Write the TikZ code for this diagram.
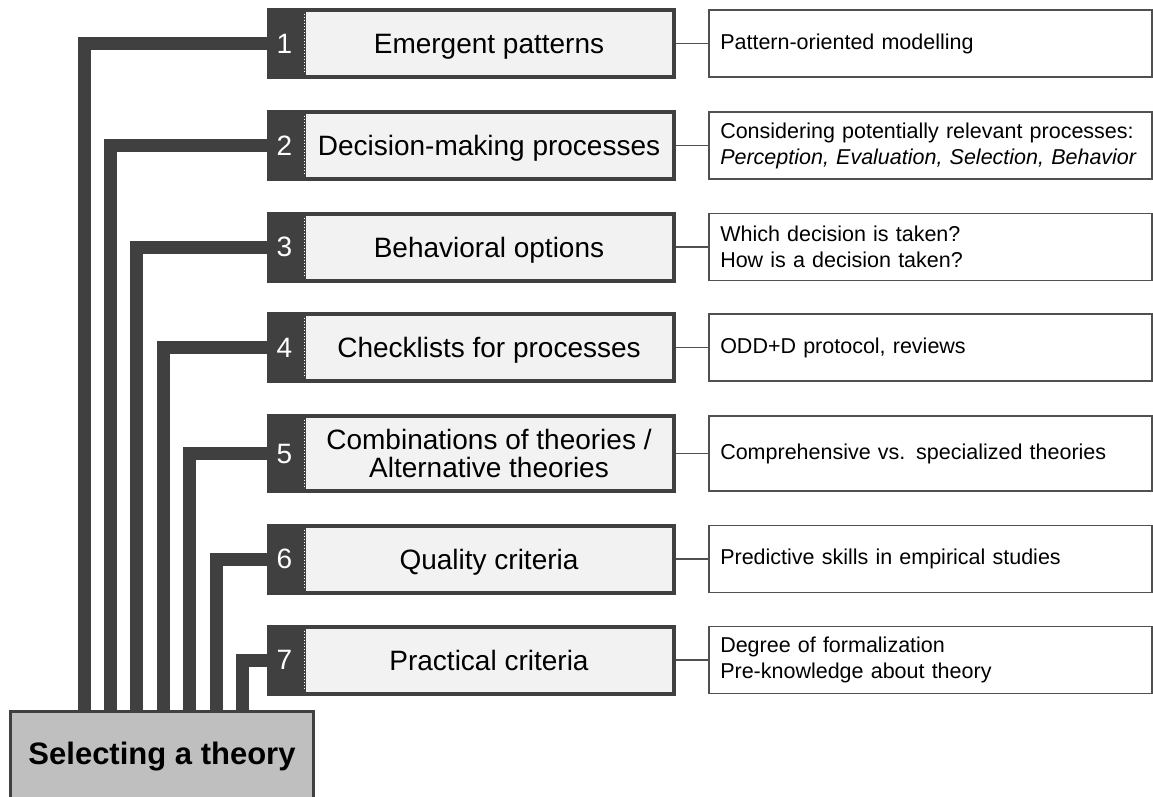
\documentclass[tikz,border=0pt]{standalone}
\usepackage{fontspec}
\setmainfont{Liberation Sans}
\usetikzlibrary{positioning}
\definecolor{slate}{HTML}{404040}
\definecolor{paper}{HTML}{F2F2F2}
\definecolor{rim}{HTML}{505050}
\definecolor{base}{HTML}{BFBFBF}

\begin{document}
\begin{tikzpicture}[x=1pt,y=-1pt,
  theme/.style={draw=slate,line width=4pt,fill=paper,minimum width=370pt,minimum height=67pt,text depth=0pt,align=center,font=\fontsize{28}{28}\selectfont},
  numbox/.style={fill=slate,text=white,minimum width=35pt,minimum height=71pt,outer sep=0pt,inner sep=0pt,font=\fontsize{28}{28}\selectfont},
  note/.style={draw=rim,line width=1.5pt,minimum height=67pt,text width=420pt,inner xsep=11.5pt,align=left,font=\fontsize{21.5}{26}\selectfont},
  bus/.style={slate,line width=13pt},
  link/.style={rim,line width=1.5pt},
  seam/.style={white,dotted,line width=1pt}]
  \useasboundingbox (0,0) rectangle (1153,796);
  % root box
  \node[draw=slate,line width=3pt,fill=base,minimum width=303pt,minimum height=90pt,font=\bfseries\fontsize{31}{31}\selectfont] (sel) at (162,756.5) {Selecting a theory};
  % steps
  \node[theme] (t1) at (489,43.5) {Emergent patterns};
  \node[numbox,left=0pt of t1] (n1) {1};
  \node[note,right=32pt of t1] (d1) {Pattern-oriented modelling};
  \node[theme] (t2) at (489,145.5) {Decision-making processes};
  \node[numbox,left=0pt of t2] (n2) {2};
  \node[note,right=32pt of t2] (d2) {Considering potentially relevant processes:\\\textit{Perception, Evaluation, Selection, Behavior}};
  \node[theme] (t3) at (489,247) {Behavioral options};
  \node[numbox,left=0pt of t3] (n3) {3};
  \node[note,right=32pt of t3] (d3) {Which decision is taken?\\How is a decision taken?};
  \node[theme] (t4) at (489,347.5) {Checklists for processes};
  \node[numbox,left=0pt of t4] (n4) {4};
  \node[note,right=32pt of t4] (d4) {ODD+D protocol, reviews};
  \node[theme,minimum height=75pt] (t5) at (489,453.5) {Combinations of theories /\\Alternative theories};
  \node[numbox,minimum height=79pt,left=0pt of t5] (n5) {5};
  \node[note,minimum height=75pt,right=32pt of t5] (d5) {Comprehensive vs. specialized theories};
  \node[theme] (t6) at (489,559) {Quality criteria};
  \node[numbox,left=0pt of t6] (n6) {6};
  \node[note,right=32pt of t6] (d6) {Predictive skills in empirical studies};
  \node[theme] (t7) at (489,660) {Practical criteria};
  \node[numbox,left=0pt of t7] (n7) {7};
  \node[note,right=32pt of t7] (d7) {Degree of formalization\\Pre-knowledge about theory};
  % connectors
  \foreach \i in {1,...,7} {
    \draw[seam] ([xshift=2.5pt,yshift=-6pt]t\i.north west) -- ([xshift=2.5pt,yshift=6pt]t\i.south west);
    \draw[link] (t\i) -- (d\i);
    \draw[bus] (n\i.west) -| ([xshift={48.6pt+26.4pt*\i}]sel.north west);
  }
\end{tikzpicture}
\end{document}
